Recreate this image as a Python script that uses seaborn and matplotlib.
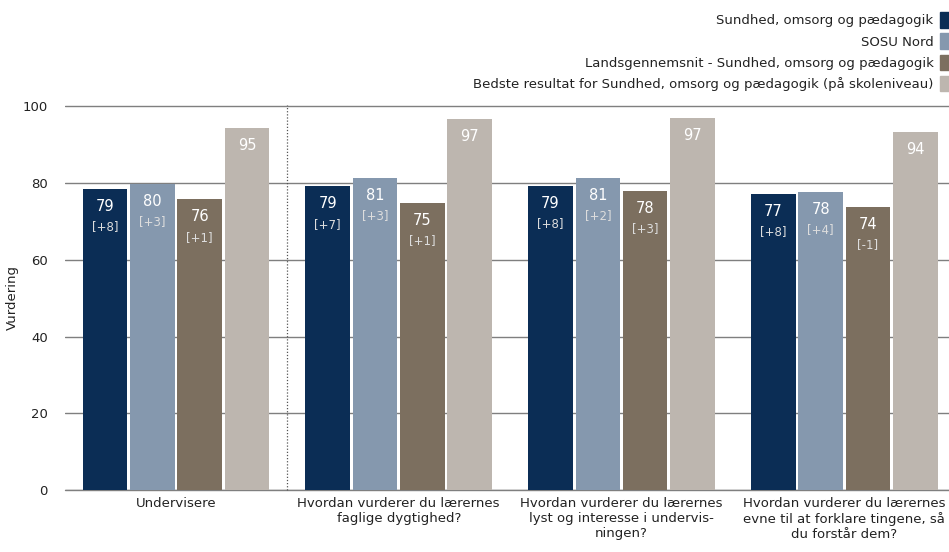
import numpy as np
import pandas as pd
import matplotlib.pyplot as plt
import seaborn as sns

categories = [
    "Undervisere",
    "Hvordan vurderer du lærernes\nfaglige dygtighed?",
    "Hvordan vurderer du lærernes\nlyst og interesse i undervis-\nningen?",
    "Hvordan vurderer du lærernes\nevne til at forklare tingene, så\ndu forstår dem?",
]
series = [
    "Sundhed, omsorg og pædagogik",
    "SOSU Nord",
    "Landsgennemsnit - Sundhed, omsorg og pædagogik",
    "Bedste resultat for Sundhed, omsorg og pædagogik (på skoleniveau)",
]
# bar heights per series (one value per category)
sundhed = [78.5, 79.1, 79.2, 77.1]
sosu_nord = [79.7, 81.3, 81.3, 77.7]
landsgns = [75.7, 74.8, 77.9, 73.8]
bedste = [94.4, 96.7, 96.9, 93.3]
# shown labels and change vs. earlier
shown = [[79, 79, 79, 77], [80, 81, 81, 78], [76, 75, 78, 74], [95, 97, 97, 94]]
change = [["+8", "+7", "+8", "+8"], ["+3", "+3", "+2", "+4"], ["+1", "+1", "+3", "-1"], None]

colors = ["#0b2d55", "#8598ae", "#7c6f5f", "#bdb6af"]

df = pd.DataFrame({
    "category": categories * 4,
    "series": np.repeat(series, 4),
    "value": sundhed + sosu_nord + landsgns + bedste,
})

sns.set_style("white")
plt.rcParams["font.family"] = ["DejaVu Sans"]

fig = plt.figure(figsize=(9.49, 5.52), dpi=100)
ax = fig.add_axes([0.068, 0.112, 0.932, 0.698])

sns.barplot(data=df, x="category", y="value", hue="series", hue_order=series,
            palette=colors, width=0.85, gap=0.06, saturation=1, linewidth=0,
            ax=ax, legend=False)

ax.set_ylim(0, 100.3)
ax.set_xlim(-0.5, 3.47)
ax.set_yticks([0, 20, 40, 60, 80, 100])
ax.set_axisbelow(True)
ax.yaxis.grid(True, color="#7f7f7f", linewidth=1.0)
ax.axhline(0, color="#7f7f7f", linewidth=1.0, clip_on=False, zorder=0.5)
for s in ax.spines.values():
    s.set_visible(False)
ax.tick_params(axis="both", length=0, labelsize=9.5, colors="#222222")
ax.tick_params(axis="y", pad=12)
ax.tick_params(axis="x", pad=5)
ax.set_xlabel("")
ax.set_ylabel("Vurdering", fontsize=9.5, color="#222222")
ax.yaxis.set_label_coords(-0.052, 0.5)
ax.axvline(0.5, ymin=0, ymax=1.0, color="#555555", linestyle=(0, (1, 1.5)), linewidth=0.9, clip_on=False)

for i, cont in enumerate(ax.containers):
    for j, bar in enumerate(cont):
        cx = bar.get_x() + bar.get_width() / 2
        top = bar.get_height()
        ax.text(cx, top - 2.6, str(shown[i][j]), ha="center", va="top",
                color="white", fontsize=10.5)
        if change[i] is not None:
            ax.text(cx, top - 8.2, "[" + change[i][j] + "]", ha="center", va="top",
                    color="#dddddd", fontsize=8.5)

handles = [plt.Rectangle((0, 0), 1, 1, color=c) for c in colors]
fig.legend(handles, series, loc="upper right", bbox_to_anchor=(1.01, 0.99),
           frameon=False, markerfirst=False, fontsize=9.5, handlelength=0.9,
           handleheight=1.45, handletextpad=0.5, labelspacing=0.42, borderpad=0,
           labelcolor="#222222")

plt.savefig("out.png", dpi=100)
